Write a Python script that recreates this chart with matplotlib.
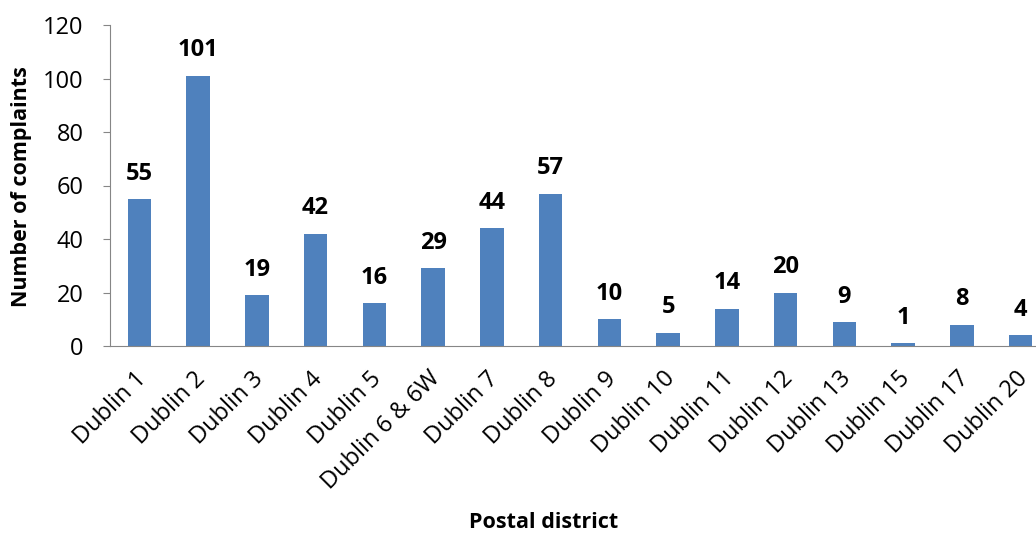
import matplotlib
matplotlib.use('Agg')
import matplotlib.pyplot as plt
import matplotlib.transforms as mtransforms
import numpy as np

# data
districts = ["Dublin 1", "Dublin 2", "Dublin 3", "Dublin 4", "Dublin 5",
             "Dublin 6 & 6W", "Dublin 7", "Dublin 8", "Dublin 9", "Dublin 10",
             "Dublin 11", "Dublin 12", "Dublin 13", "Dublin 15", "Dublin 17",
             "Dublin 20"]
complaints = [55, 101, 19, 42, 16, 29, 44, 57, 10, 5, 14, 20, 9, 1, 8, 4]

plt.rcParams['font.family'] = ['Open Sans', 'DejaVu Sans']

fig = plt.figure(figsize=(10.36, 5.33), dpi=100)
ax = fig.add_axes([110 / 1036, 1 - 346 / 533, 940 / 1036, 321 / 533])

x = np.arange(len(districts))
ax.bar(x, complaints, width=0.4, color='#4F81BD')

for xi, v in zip(x, complaints):
    ax.text(xi, v + 5, str(v), ha='center', va='bottom',
            fontsize=17, fontweight='bold')

ax.set_xlim(-0.5, len(districts) - 0.5)
ax.set_ylim(0, 120)
ax.set_yticks(range(0, 121, 20))
ax.set_xticks(x)
ax.set_xticklabels(districts, rotation=45, ha='right', rotation_mode='anchor')
ax.tick_params(axis='x', length=0, labelsize=17, pad=15)
ax.tick_params(axis='y', length=5, color='#868686', labelsize=17, pad=14)

# nudge the rotated labels so their ends sit under the bars
shift = mtransforms.ScaledTranslation(-5 / 100, 0, fig.dpi_scale_trans)
for lab in ax.get_xticklabels():
    lab.set_transform(lab.get_transform() + shift)

for side in ['top', 'right']:
    ax.spines[side].set_visible(False)
ax.spines['left'].set_color('#868686')
ax.spines['bottom'].set_color('#868686')

fig.text(22 / 1036, 1 - 187 / 533, "Number of complaints", rotation=90,
         ha='center', va='center', fontsize=15.5, fontweight='bold')
fig.text(544 / 1036, 1 - 522 / 533, "Postal district",
         ha='center', va='center', fontsize=15.5, fontweight='bold')

plt.savefig("out.png", dpi=100)
